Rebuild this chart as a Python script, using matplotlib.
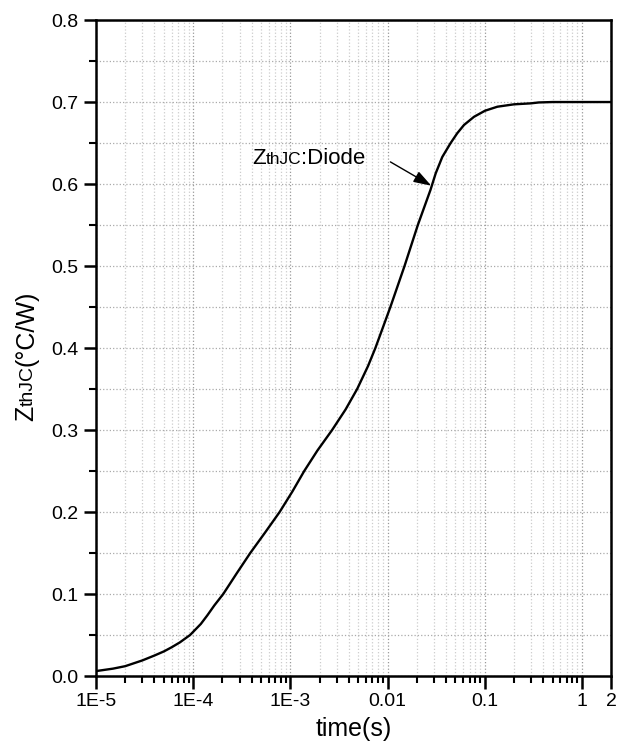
import numpy as np
import matplotlib
matplotlib.use('Agg')
import matplotlib.pyplot as plt
from matplotlib.ticker import FixedLocator, FixedFormatter, MultipleLocator
from matplotlib.transforms import IdentityTransform

plt.rcParams['font.family'] = ['Liberation Sans', 'DejaVu Sans']

# thermal impedance curve
time_s = [1e-5, 1.5e-5, 2e-5, 3e-5, 4e-5, 5e-5, 6e-5, 7.3e-5, 9.3e-5, 1.2e-4,
          1.4e-4, 1.65e-4, 2.04e-4, 2.8e-4, 3.87e-4, 5.5e-4, 7.76e-4, 1.05e-3,
          1.39e-3, 1.9e-3, 2.69e-3, 3.7e-3, 4.87e-3, 6.3e-3, 7.5e-3, 0.0107,
          0.01496, 0.0205, 0.0277, 0.0313, 0.0366, 0.0446, 0.0522, 0.0612,
          0.0776, 0.1007, 0.135, 0.2, 0.298, 0.36, 0.5, 1.0, 2.0]
zth = [0.006, 0.009, 0.012, 0.019, 0.025, 0.030, 0.035, 0.041, 0.050, 0.0635,
       0.074, 0.086, 0.100, 0.125, 0.150, 0.175, 0.200, 0.225,
       0.250, 0.275, 0.300, 0.325, 0.350, 0.378, 0.400, 0.450,
       0.500, 0.550, 0.593, 0.613, 0.633, 0.650, 0.662, 0.672,
       0.682, 0.6894, 0.6943, 0.6972, 0.6984, 0.6995, 0.700, 0.700, 0.700]

x_ticks = [1e-5, 1e-4, 1e-3, 0.01, 0.1, 1, 2]
x_labels = ['1E-5', '1E-4', '1E-3', '0.01', '0.1', '1', '2']


def rich_text(fig, x, y, pieces, rotation=0, center=False):
    """Lay out text pieces of different sizes on one baseline (pixel coords)."""
    r = fig.canvas.get_renderer()
    widths = []
    for s, size in pieces:
        t = fig.text(0, 0, s, fontsize=size)
        widths.append(t.get_window_extent(r).width)
        t.remove()
    pos = -sum(widths) / 2 if center else 0
    for (s, size), w in zip(pieces, widths):
        px, py = (x, y + pos) if rotation else (x + pos, y)
        fig.text(px, py, s, fontsize=size, rotation=rotation, ha='left',
                 va='baseline', rotation_mode='anchor',
                 transform=IdentityTransform())
        pos += w


fig = plt.figure(figsize=(6.23, 7.45), dpi=100)
ax = fig.add_axes([0.154, 0.0926, 0.827, 0.8805])

ax.plot(time_s, zth, color='black', lw=1.7)

ax.set_xscale('log')
ax.set_xlim(1e-5, 2)
ax.set_ylim(0, 0.8)

ax.xaxis.set_major_locator(FixedLocator(x_ticks))
ax.xaxis.set_major_formatter(FixedFormatter(x_labels))
minors = [m * 10.0 ** e for e in range(-5, 0) for m in range(2, 10)]
ax.xaxis.set_minor_locator(FixedLocator(minors))
ax.xaxis.set_minor_formatter(FixedFormatter([''] * len(minors)))
ax.yaxis.set_major_locator(MultipleLocator(0.1))
ax.yaxis.set_minor_locator(MultipleLocator(0.05))
ax.yaxis.set_major_formatter(plt.FormatStrFormatter('%.1f'))

# dotted grid
ax.grid(which='major', axis='x', ls=':', color='#999999', lw=0.9)
ax.grid(which='minor', axis='x', ls=':', color='#cccccc', lw=0.9)
ax.grid(which='both', axis='y', ls=':', color='#aaaaaa', lw=0.9)

for s in ax.spines.values():
    s.set_linewidth(1.8)
ax.tick_params(which='major', direction='out', length=9, width=1.8,
               labelsize=14, top=False, right=False)
ax.tick_params(which='minor', direction='out', length=5, width=1.5,
               top=False, right=False)

ax.set_xlabel('time(s)', fontsize=18, labelpad=5)

# y label and curve label with smaller "thJC"
rich_text(fig, 33, 389, [('Z', 18), ('thJC', 14), ('(°C/W)', 18)],
          rotation=90, center=True)
rich_text(fig, 252, 581, [('Z', 16), ('thJC', 12.5), (':Diode', 16)])

ax.annotate('', xy=(0.0282, 0.598), xytext=(0.0107, 0.627),
            arrowprops=dict(arrowstyle='-|>,head_length=0.6,head_width=0.2',
                            color='black', lw=1, mutation_scale=18,
                            shrinkA=0, shrinkB=0))

fig.savefig('out.png', dpi=100)
